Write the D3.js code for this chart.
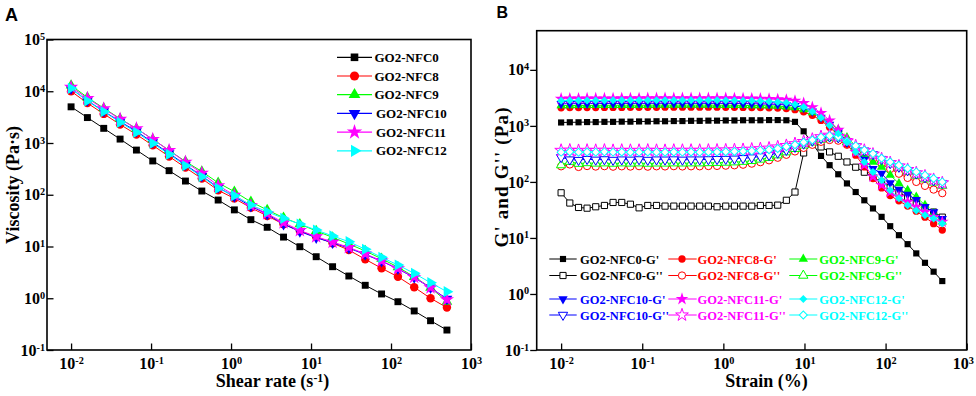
<!DOCTYPE html>
<html>
<head>
<meta charset="utf-8">
<script src="https://cdnjs.cloudflare.com/ajax/libs/d3/7.8.5/d3.min.js"></script>
<style>
  body { margin: 0; background: #fff; }
  svg { display: block; }
  text { font-family: "Liberation Serif", "Times New Roman", serif; font-weight: bold; }
</style>
</head>
<body>
<div id="chart"></div>
<script>
// ---------- panel A : viscosity vs shear rate ----------
const seriesNames = ["GO2-NFC0", "GO2-NFC8", "GO2-NFC9", "GO2-NFC10", "GO2-NFC11", "GO2-NFC12"];
const seriesColors = ["#000000", "#ff0000", "#00ff00", "#0000ff", "#ff00ff", "#00ffff"];

const shearRate = [0.01, 0.016, 0.0256, 0.041, 0.0656, 0.105, 0.168, 0.269, 0.431, 0.690, 1.10, 1.77,
  2.83, 4.53, 7.25, 11.6, 18.6, 29.7, 47.6, 76.2, 122, 195, 312, 500];

const viscNFC0 = [5000, 3100, 1920, 1190, 730, 450, 292, 184, 118, 79, 51, 33, 23.5, 15.2, 9.9, 6.35, 4.07, 2.69, 1.78, 1.21, 0.857, 0.568, 0.368, 0.243];
const viscNFC8 = [10000, 5900, 3650, 2280, 1460, 900, 550, 335, 205, 122, 85, 56, 39, 27, 20, 15.2, 11.6, 8.55, 5.66, 3.8, 2.6, 1.63, 1.0, 0.66];
const viscNFC9 = [13000, 7600, 4700, 2950, 1900, 1180, 720, 440, 282, 170, 115, 73, 51, 36, 27, 20, 15, 11.2, 8.2, 5.8, 4.0, 2.6, 1.6, 0.86];
const viscNFC10 = [11200, 6600, 4100, 2600, 1680, 1030, 630, 380, 230, 138, 92, 60, 42, 27, 19.5, 14.8, 11.8, 9.3, 7.0, 5.2, 3.7, 2.5, 1.6, 0.97];
const viscNFC11 = [12000, 7300, 4600, 2900, 1900, 1180, 720, 430, 262, 150, 98, 62, 43, 29, 20.5, 15.5, 12.2, 9.6, 7.2, 5.3, 3.75, 2.55, 1.6, 0.94];
const viscNFC12 = [11400, 6490, 4030, 2510, 1610, 986, 605, 364, 223, 133, 96, 63.4, 47, 35, 27.2, 20.8, 16, 12.4, 8.83, 6.18, 4.39, 3.03, 2.0, 1.34];
const viscosity = [viscNFC0, viscNFC8, viscNFC9, viscNFC10, viscNFC11, viscNFC12];

// ---------- panel B : G' and G'' vs strain ----------
const strain = [0.0100, 0.0128, 0.0164, 0.0209, 0.0267, 0.0342, 0.0437, 0.0559, 0.0715, 0.0914,
  0.117, 0.150, 0.191, 0.245, 0.313, 0.400, 0.511, 0.654, 0.836, 1.07,
  1.37, 1.75, 2.24, 2.86, 3.66, 4.68, 5.98, 7.64, 9.77, 12.5,
  16.0, 20.4, 26.1, 33.4, 42.8, 54.7, 69.9, 89.3, 114, 146,
  187, 239, 306, 391, 500];

const gpNFC0 = [1150, 1160, 1160, 1170, 1170, 1180, 1180, 1190, 1190, 1200, 1200, 1210, 1210, 1220, 1220, 1230, 1230, 1240, 1240, 1250,
  1250, 1260, 1260, 1260, 1270, 1270, 1260, 1180, 800, 490, 291, 199, 137, 94, 66, 47, 33.6, 23.8, 16.2, 11.2,
  7.75, 5.3, 3.6, 2.5, 1.7];
const gppNFC0 = [64, 42, 35, 34, 36, 38, 43, 43, 40, 34.5, 38, 38, 37, 37, 37, 37, 37, 37, 36, 37,
  37, 37, 37, 38, 38, 38.5, 47, 66, 329, 510, 421, 343, 287, 227, 183, 149, 121, 99, 80, 65,
  53, 43, 35, 29, 23.5];

const gpNFC8 = [2100, 2120, 2120, 2130, 2130, 2140, 2140, 2140, 2150, 2150, 2150, 2150, 2160, 2160, 2160, 2160, 2160, 2160, 2160, 2150,
  2150, 2140, 2130, 2120, 2100, 2080, 2040, 1950, 1780, 1550, 1250, 950, 680, 470, 300, 185, 115, 78, 57, 46,
  37, 30, 23.5, 18, 13.8];
const gppNFC8 = [190, 205, 185, 192, 188, 191, 187, 190, 188, 191, 187, 190, 189, 191, 189, 190, 190, 192, 193, 195,
  198, 203, 212, 225, 243, 270, 305, 350, 405, 460, 520, 560, 545, 460, 380, 310, 260, 210, 170, 140,
  118, 100, 85, 73, 63];

const gpNFC9 = [2300, 2310, 2320, 2320, 2330, 2330, 2330, 2340, 2340, 2340, 2340, 2350, 2350, 2350, 2350, 2350, 2350, 2350, 2340, 2340,
  2330, 2320, 2310, 2300, 2280, 2250, 2200, 2120, 1960, 1730, 1450, 1140, 860, 620, 440, 310, 227, 185, 132, 94,
  71, 54, 38.5, 27.4, 19.4];
const gppNFC9 = [200, 230, 212, 218, 214, 216, 213, 216, 214, 216, 213, 215, 214, 216, 215, 216, 216, 218, 220, 222,
  225, 230, 238, 252, 270, 300, 340, 390, 450, 510, 570, 610, 600, 510, 420, 350, 300, 248, 208, 178,
  152, 130, 112, 98, 86];

const gpNFC10 = [2480, 2490, 2500, 2500, 2510, 2510, 2510, 2520, 2520, 2520, 2520, 2530, 2530, 2530, 2530, 2530, 2530, 2530, 2520, 2520,
  2510, 2500, 2490, 2470, 2450, 2420, 2370, 2290, 2120, 1820, 1420, 1060, 770, 530, 370, 251, 173, 141, 96, 73,
  60, 48, 36, 29, 22];
const gppNFC10 = [275, 250, 245, 255, 248, 252, 246, 250, 248, 252, 246, 250, 249, 251, 248, 250, 250, 252, 254, 256,
  259, 264, 272, 285, 300, 330, 370, 420, 480, 540, 600, 640, 620, 520, 430, 360, 310, 255, 215, 185,
  160, 140, 120, 106, 95];

const gpNFC11 = [3050, 3060, 3070, 3080, 3080, 3090, 3090, 3100, 3100, 3100, 3110, 3110, 3110, 3120, 3120, 3120, 3120, 3120, 3110, 3110,
  3100, 3090, 3070, 3050, 3020, 2980, 2920, 2800, 2550, 2150, 1700, 1250, 850, 560, 340, 200, 125, 88, 66, 54,
  44, 36, 29, 23.5, 19.4];
const gppNFC11 = [365, 368, 362, 366, 364, 367, 363, 366, 364, 365, 367, 364, 363, 366, 365, 366, 365, 367, 368, 370,
  373, 377, 383, 390, 400, 420, 445, 480, 525, 575, 640, 680, 650, 535, 440, 365, 312, 258, 220, 192,
  166, 145, 127, 110, 96];

const gpNFC12 = [2820, 2830, 2840, 2840, 2850, 2850, 2860, 2860, 2860, 2870, 2870, 2870, 2870, 2870, 2870, 2870, 2870, 2860, 2860, 2850,
  2840, 2820, 2800, 2770, 2730, 2680, 2600, 2420, 2170, 1800, 1400, 1020, 730, 516, 343, 227, 151, 107, 71, 51,
  38.5, 31, 25.5, 22.3, 18.1];
const gppNFC12 = [340, 345, 338, 342, 340, 344, 340, 342, 338, 340, 342, 340, 338, 342, 340, 341, 340, 342, 343, 345,
  348, 352, 358, 365, 375, 395, 425, 460, 510, 560, 630, 670, 640, 530, 440, 370, 320, 265, 227, 199,
  173, 151, 132, 115, 100];

const storageMod = [gpNFC0, gpNFC8, gpNFC9, gpNFC10, gpNFC11, gpNFC12];
const lossMod = [gppNFC0, gppNFC8, gppNFC9, gppNFC10, gppNFC11, gppNFC12];

// decade ticks
const decadesAx = [0.01, 0.1, 1, 10, 100, 1000];
const decadesAy = [0.1, 1, 10, 100, 1000, 10000, 100000];
const decadesBx = [0.01, 0.1, 1, 10, 100, 1000];
const decadesBy = [0.1, 1, 10, 100, 1000, 10000];

// ---------- drawing ----------
const W = 976, H = 396;
const svg = d3.select("#chart").append("svg").attr("width", W).attr("height", H);

const A = {left: 47, right: 471, top: 39.5, bottom: 350};
const B = {left: 536.7, right: 966.7, top: 30.7, bottom: 350};

const xA = d3.scaleLog().domain([0.005, 1000]).range([A.left, A.right]);
const yA = d3.scaleLog().domain([0.1, 1e5]).range([A.bottom, A.top]);
const xB = d3.scaleLog().domain([0.005, 1000]).range([B.left, B.right]);
const yB = d3.scaleLog().domain([0.1, 5e4]).range([B.bottom, B.top]);

function minorsOf(scale) {
  const [lo, hi] = scale.domain();
  const out = [];
  for (let e = Math.floor(Math.log10(lo)); e <= Math.ceil(Math.log10(hi)); e++) {
    for (let k = 2; k <= 9; k++) {
      const v = k * Math.pow(10, e);
      if (v >= lo * 0.999 && v <= hi * 1.001) out.push(v);
    }
  }
  return out;
}

function powLabel(sel) {
  sel.each(function(d) {
    const t = d3.select(this);
    t.text(null);
    t.append("tspan").text("10");
    t.append("tspan").attr("dy", "-0.5em").attr("font-size", "0.64em").text(Math.round(Math.log10(d)));
  });
}

function drawAxes(xs, ys, box, majX, majY, yInward, yPad, lastShift) {
  const gx = svg.append("g").attr("transform", `translate(0,${box.bottom})`);
  gx.call(d3.axisBottom(xs).tickValues(minorsOf(xs)).tickSize(-3.5).tickSizeOuter(0).tickFormat(() => ""));
  gx.call(d3.axisBottom(xs).tickValues(majX).tickSize(-6.5).tickSizeOuter(0).tickPadding(8).tickFormat(() => ""));
  gx.selectAll(".domain").remove();
  gx.attr("font-size", 16).selectAll("line").attr("stroke-width", 1.3);
  gx.selectAll(".tick text").filter(d => majX.includes(d)).call(powLabel)
    .filter(d => d === majX[majX.length - 1]).attr("dx", lastShift);

  const gy = svg.append("g").attr("transform", `translate(${box.left},0)`);
  const sgn = yInward ? -1 : 1;
  gy.call(d3.axisLeft(ys).tickValues(minorsOf(ys)).tickSize(3.5 * sgn).tickSizeOuter(0).tickFormat(() => ""));
  gy.call(d3.axisLeft(ys).tickValues(majY).tickSize(6.5 * sgn).tickSizeOuter(0).tickPadding(yPad).tickFormat(() => ""));
  gy.selectAll(".domain").remove();
  gy.attr("font-size", 16).selectAll("line").attr("stroke-width", 1.3);
  gy.selectAll(".tick text").filter(d => majY.includes(d)).call(powLabel);

  svg.append("rect")
    .attr("x", box.left).attr("y", box.top)
    .attr("width", box.right - box.left).attr("height", box.bottom - box.top)
    .attr("fill", "none").attr("stroke", "#000").attr("stroke-width", 1.6);
}

const symbolTypes = {
  square: d3.symbolSquare, circle: d3.symbolCircle, up: d3.symbolTriangle,
  down: d3.symbolTriangle, star: d3.symbolStar, right: d3.symbolTriangle, diamond: d3.symbolSquare
};
const symbolRot = {square: 0, circle: 0, up: 0, down: 180, star: 0, right: 90, diamond: 45};

function marker(g, shape, size, x, y, color, open) {
  g.append("path")
    .attr("transform", `translate(${x},${y}) rotate(${symbolRot[shape]})`)
    .attr("d", d3.symbol().type(symbolTypes[shape]).size(size)())
    .attr("fill", open ? "#fff" : color)
    .attr("stroke", open ? color : "none")
    .attr("stroke-width", 1);
}

// ----- panel A -----
const shapesA = ["square", "circle", "up", "down", "star", "right"];
const sizesA = [48, 56, 50, 50, 64, 54];

drawAxes(xA, yA, A, decadesAx, decadesAy, true, 2, 0);

const gA = svg.append("g");
viscosity.forEach((vals, s) => {
  const pts = shearRate.map((x, i) => [x, vals[i]]);
  gA.append("path").datum(pts)
    .attr("fill", "none").attr("stroke", seriesColors[s]).attr("stroke-width", 1)
    .attr("d", d3.line().x(d => xA(d[0])).y(d => yA(d[1])));
  pts.forEach(d => marker(gA, shapesA[s], sizesA[s], xA(d[0]), yA(d[1]), seriesColors[s], false));
});

// legend A
seriesNames.forEach((name, s) => {
  const y = 57.3 + s * 18.7;
  svg.append("line").attr("x1", 337).attr("x2", 372).attr("y1", y).attr("y2", y)
    .attr("stroke", seriesColors[s]).attr("stroke-width", 1.2);
  marker(svg, shapesA[s], sizesA[s] + 10, 354.5, y, seriesColors[s], false);
  svg.append("text").attr("x", s < 3 ? 374.5 : 376).attr("y", y + 4.5)
    .attr("font-size", 13).attr("fill", "#000").text(name);
});

svg.append("text").attr("transform", "translate(18.5,185) rotate(-90)")
  .attr("text-anchor", "middle").attr("font-size", 18).text("Viscosity (Pa\u00b7s)");
const tA = svg.append("text").attr("x", 272.5).attr("y", 387).attr("text-anchor", "middle").attr("font-size", 18);
tA.append("tspan").text("Shear rate (s");
tA.append("tspan").attr("dy", "-0.45em").attr("font-size", "0.66em").text("-1");
tA.append("tspan").attr("dy", "0.3em").text(")");

svg.append("text").attr("x", 5).attr("y", 21).attr("font-size", 18)
  .style("font-family", "'Liberation Sans', Arial, sans-serif").text("A");

// ----- panel B -----
const shapesB = ["square", "circle", "up", "down", "star", "diamond"];
const sizesB = [38, 42, 38, 38, 50, 32];

drawAxes(xB, yB, B, decadesBx, decadesBy, false, 1, -4);

const gB = svg.append("g");
seriesNames.forEach((name, s) => {
  [lossMod[s], storageMod[s]].forEach((vals, k) => {
    const open = k === 0;
    const pts = strain.map((x, i) => [x, vals[i]]);
    gB.append("path").datum(pts)
      .attr("fill", "none").attr("stroke", seriesColors[s]).attr("stroke-width", 1)
      .attr("d", d3.line().x(d => xB(d[0])).y(d => yB(d[1])));
    pts.forEach(d => marker(gB, shapesB[s], sizesB[s], xB(d[0]), yB(d[1]), seriesColors[s], open));
  });
});

// legend B: three columns, NFC0/NFC10, NFC8/NFC11, NFC9/NFC12
const legCols = [{x1: 549.3, x2: 576.7, m: 563, t: 580}, {x1: 668.3, x2: 696.7, m: 682, t: 697.5}, {x1: 789.3, x2: 817.3, m: 803.3, t: 819.3}];
const legRows = [259, 275.5, 299, 315];
const legOrder = [[0, 3], [1, 4], [2, 5]];
legOrder.forEach((pair, c) => {
  pair.forEach((s, p) => {
    ["G'", "G''"].forEach((suffix, k) => {
      const y = legRows[p * 2 + k];
      const col = legCols[c];
      svg.append("line").attr("x1", col.x1).attr("x2", col.x2).attr("y1", y).attr("y2", y)
        .attr("stroke", seriesColors[s]).attr("stroke-width", 1);
      marker(svg, shapesB[s], sizesB[s], col.m, y, seriesColors[s], k === 1);
      svg.append("text").attr("x", col.t).attr("y", y + 4.5).attr("font-size", 12.5)
        .attr("fill", seriesColors[s]).text(seriesNames[s] + "-" + suffix);
    });
  });
});

svg.append("text").attr("transform", "translate(508,177.5) rotate(-90)")
  .attr("text-anchor", "middle").attr("font-size", 19)
  .attr("textLength", 140).attr("lengthAdjust", "spacing").text("G' and G'' (Pa)");
svg.append("text").attr("x", 766.5).attr("y", 387).attr("text-anchor", "middle").attr("font-size", 18).text("Strain (%)");

svg.append("text").attr("x", 496.5).attr("y", 17.5).attr("font-size", 16)
  .style("font-family", "'Liberation Sans', Arial, sans-serif").text("B");
</script>
</body>
</html>
